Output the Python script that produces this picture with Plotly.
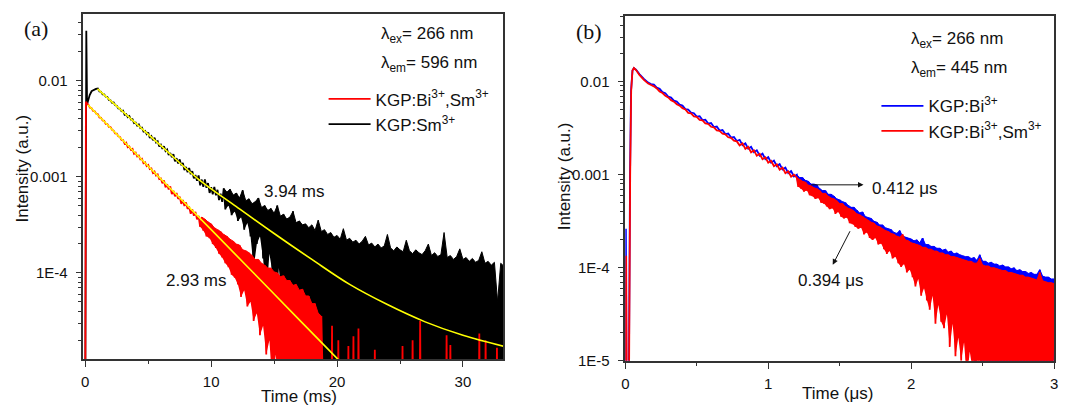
import plotly.graph_objects as go

W, H = 1069, 411
FONT = "Liberation Sans, Arial, Helvetica, sans-serif"
SERIF = "Liberation Serif, Times New Roman, serif"

# =====================================================================
# Panel (a)  lambda_ex = 266 nm, lambda_em = 596 nm   (time in ms)
# =====================================================================
# KGP:Sm3+ (black)
sm_head_t = [0.00, 0.08, 0.14, 0.22, 0.35, 0.50, 0.70, 0.85]
sm_head_log = [-5.20, -1.48, -2.25, -2.21, -2.15, -2.11, -2.095, -2.086]
sm_body_t0, sm_body_dt = 1.0, 0.125
sm_body_log = [-2.082, -2.111, -2.115, -2.143, -2.142, -2.166, -2.169, -2.200, -2.204, -2.229,
               -2.227, -2.256, -2.260, -2.289, -2.291, -2.317, -2.312, -2.354, -2.347, -2.379,
               -2.368, -2.404, -2.402, -2.442, -2.436, -2.468, -2.456, -2.494, -2.489, -2.529,
               -2.522, -2.556, -2.538, -2.595, -2.577, -2.620, -2.594, -2.643, -2.630, -2.685,
               -2.667, -2.709, -2.682, -2.733, -2.716, -2.772, -2.752, -2.797, -2.764, -2.839,
               -2.807, -2.862, -2.819, -2.881, -2.856, -2.929, -2.897, -2.952, -2.908, -2.973,
               -2.942, -3.016, -2.982, -3.041, -2.986, -3.088, -3.029, -3.103, -3.028, -3.114,
               -3.065, -3.168, -3.108, -3.183, -3.105, -3.193, -3.136, -3.243, -3.176, -3.261]
sm_tail_t0, sm_tail_dt = 11.0, 0.125
sm_tail_upper = [-3.12, -3.16, -3.13, -3.19, -3.17, -3.22, -3.14, -3.25, -3.23, -3.28,
                 -3.26, -3.22, -3.32, -3.30, -3.35, -3.33, -3.38, -3.30, -3.41, -3.39,
                 -3.44, -3.42, -3.36, -3.48, -3.46, -3.50, -3.49, -3.53, -3.50, -3.56,
                 -3.45, -3.57, -3.55, -3.60, -3.58, -3.63, -3.61, -3.65, -3.54, -3.66,
                 -3.64, -3.68, -3.66, -3.70, -3.67, -3.62, -3.71, -3.69, -3.73, -3.70,
                 -3.74, -3.72, -3.60, -3.74, -3.77, -3.73, -3.76, -3.78, -3.66, -3.77,
                 -3.80, -3.76, -3.79, -3.81, -3.77, -3.70, -3.82, -3.79, -3.83, -3.81,
                 -3.58, -3.84, -3.82, -3.86, -3.83, -3.75, -3.86, -3.84, -3.88, -3.85,
                 -3.89, -3.87, -3.78, -3.90, -3.88, -3.92, -3.89, -4.30, -3.90, -3.93]
sm_tail_lower = [-3.34, -3.30, -3.40, -3.36, -3.46, -3.42, -3.55, -3.48, -3.62, -3.95,
                 -3.70, -3.62, -3.85, -4.25, -3.80, -4.00, -4.55, -3.95, -4.30, -4.70,
                 -4.35, -5.20, -4.60, -5.20]
sm_solid_from = 23          # from this upper-envelope sample on, the black band reaches the axis floor

# KGP:Bi3+,Sm3+ (red)
bs_head_t = [0.00, 0.05, 0.15]
bs_head_log = [-5.20, -2.22, -2.24]
bs_body_t0, bs_body_dt = 0.25, 0.125
bs_body_log = [-2.250, -2.281, -2.287, -2.315, -2.318, -2.343, -2.349, -2.382, -2.387, -2.413,
               -2.417, -2.449, -2.452, -2.480, -2.482, -2.511, -2.519, -2.548, -2.550, -2.579,
               -2.585, -2.615, -2.617, -2.655, -2.645, -2.692, -2.685, -2.719, -2.710, -2.760,
               -2.749, -2.789, -2.779, -2.818, -2.811, -2.859, -2.850, -2.889, -2.876, -2.920,
               -2.914, -2.961, -2.946, -2.987, -2.975, -3.023, -3.017, -3.068, -3.038, -3.109,
               -3.078, -3.131, -3.101, -3.179, -3.146, -3.203, -3.169, -3.230, -3.207, -3.282,
               -3.242, -3.303, -3.267, -3.334, -3.310, -3.385, -3.339, -3.405, -3.365, -3.443,
               -3.408]
bs_tail_t0, bs_tail_dt = 9.125, 0.125
bs_tail_lower = [-3.52, -3.56, -3.62, -3.64, -3.70, -3.74, -3.80, -3.84, -3.90, -3.94,
                 -4.02, -4.05, -4.12, -4.25, -4.18, -4.35, -4.30, -4.50, -4.42, -4.65,
                 -4.55, -4.85, -4.70, -5.20, -4.85, -5.20, -5.00, -5.20, -5.20, -5.20,
                 -5.20, -5.20, -5.20, -5.20, -5.20, -5.20, -5.20, -5.20, -5.20, -5.20]
bs_tail_upper = [-3.42, -3.44, -3.47, -3.49, -3.53, -3.55, -3.57, -3.60, -3.62, -3.65,
                 -3.67, -3.70, -3.71, -3.76, -3.77, -3.79, -3.82, -3.86, -3.86, -3.90,
                 -3.92, -3.95, -3.95, -3.99, -4.00, -4.04, -4.03, -4.08, -4.08, -4.13,
                 -4.12, -4.18, -4.17, -4.24, -4.24, -4.32, -4.32, -4.42, -4.45]
bs_spike_t = [19.57, 19.60, 19.63, 20.07, 20.10, 20.13, 20.87, 20.90, 20.93, 21.27, 21.30, 21.33,
              21.67, 21.70, 21.73, 22.97, 23.00, 23.03, 25.17, 25.20, 25.23, 25.97, 26.00, 26.03,
              26.57, 26.60, 26.63, 28.67, 28.70, 28.73, 28.97, 29.00, 29.03, 31.27, 31.30, 31.33,
              31.77, 31.80, 31.83, 32.67, 32.70, 32.73]
bs_spike_log = [-5.20, -4.55, -5.20, -5.20, -4.70, -5.20, -5.20, -4.76, -5.20, -5.20, -4.66, -5.20,
                -5.20, -4.58, -5.20, -5.20, -4.80, -5.20, -5.20, -4.76, -5.20, -5.20, -4.70, -5.20,
                -5.20, -4.50, -5.20, -5.20, -4.65, -5.20, -5.20, -4.75, -5.20, -5.20, -4.63, -5.20,
                -5.20, -4.70, -5.20, -5.20, -4.78, -5.20]

# single-exponential fits (yellow)
sm_fit_t = [0.97, 3.0, 6.0, 9.0, 12.0, 15.0, 18.0, 21.0, 24.0, 27.0, 30.0, 33.4]
sm_fit_log = [-2.086, -2.324, -2.675, -3.026, -3.31, -3.59, -3.86, -4.12, -4.33, -4.51, -4.65, -4.77]
bs_fit_t = [0.2, 5.0, 10.0, 15.0, 20.0, 21.0]
bs_fit_log = [-2.25, -2.89, -3.55, -4.22, -4.89, -5.02]

# =====================================================================
# Panel (b)  lambda_ex = 266 nm, lambda_em = 445 nm   (time in us)
# =====================================================================
# KGP:Bi3+ (blue)
bi_head_t = [0.000, 0.004, 0.008, 0.025, 0.033, 0.040, 0.050, 0.060, 0.075, 0.100, 0.130, 0.160, 0.180]
bi_head_log = [-5.20, -3.58, -5.20, -5.20, -3.00, -2.10, -1.88, -1.853, -1.870, -1.920, -1.970, -2.010, -2.025]
bi_body_t0, bi_body_dt = 0.20, 0.02
bi_body_log = [-2.030, -2.064, -2.076, -2.112, -2.124, -2.159, -2.170, -2.204, -2.214, -2.247,
               -2.256, -2.294, -2.300, -2.331, -2.338, -2.375, -2.370, -2.412, -2.407, -2.450,
               -2.444, -2.487, -2.482, -2.525, -2.519, -2.562, -2.557, -2.600, -2.594, -2.637,
               -2.624, -2.682, -2.661, -2.720, -2.699, -2.757, -2.736, -2.795, -2.773, -2.832,
               -2.811, -2.870, -2.848, -2.907, -2.886, -2.944, -2.923, -2.982, -2.961, -3.019]
bi_tail_t0, bi_tail_dt = 1.20, 0.01
bi_tail_upper = [-3.00, -3.03, -3.03, -3.06, -3.07, -3.10, -3.10, -3.11, -3.15, -3.17,
                 -3.17, -3.21, -3.21, -3.23, -3.26, -3.27, -3.29, -3.30, -3.33, -3.35,
                 -3.35, -3.38, -3.41, -3.40, -3.45, -3.46, -3.47, -3.50, -3.51, -3.54,
                 -3.54, -3.57, -3.58, -3.59, -3.62, -3.63, -3.60, -3.66, -3.67, -3.68,
                 -3.69, -3.71, -3.70, -3.73, -3.68, -3.75, -3.75, -3.77, -3.77, -3.79,
                 -3.79, -3.81, -3.80, -3.83, -3.82, -3.85, -3.84, -3.86, -3.87, -3.88,
                 -3.88, -3.90, -3.89, -3.92, -3.86, -3.93, -3.93, -3.95, -3.94, -3.96,
                 -3.96, -3.98, -3.97, -3.99, -3.99, -4.01, -4.00, -4.03, -4.02, -4.04,
                 -4.04, -4.06, -4.05, -4.07, -4.07, -4.02, -4.09, -4.10, -4.10, -4.12,
                 -4.12]
bi_tail_lower = [-3.10, -3.11, -3.14, -3.13, -3.17, -3.18, -3.21, -3.20, -3.25, -3.26,
                 -3.28, -3.31, -3.30, -3.35, -3.33, -3.38, -3.40, -3.39, -3.44, -3.45,
                 -3.48, -3.50, -3.49, -3.55, -3.53, -3.58, -3.60, -3.58, -3.64, -3.63,
                 -3.68, -3.72, -3.70, -3.76, -3.74, -3.79, -3.82, -3.80, -3.86, -3.84,
                 -3.90, -3.95, -3.92, -4.00, -3.97, -4.05, -4.12, -4.08, -4.20, -4.15,
                 -4.45, -4.25, -4.30, -4.50, -4.40, -4.80, -4.50, -4.65, -4.55, -4.90,
                 -4.70, -4.90, -5.20, -4.80, -5.20, -5.00, -5.20, -5.20, -5.10, -5.20,
                 -5.20, -5.20, -5.20, -5.05, -5.20, -5.20, -5.20, -5.20, -5.20, -5.10,
                 -5.20, -5.20, -5.20, -5.20, -5.20, -5.20, -5.20, -5.05, -5.20, -5.20]

# KGP:Bi3+,Sm3+ (red)
bb_head_t = [0.000, 0.006, 0.010, 0.026, 0.034, 0.041, 0.050, 0.060, 0.075, 0.100, 0.130, 0.160, 0.180]
bb_head_log = [-5.20, -3.87, -5.20, -5.20, -3.00, -2.10, -1.88, -1.853, -1.875, -1.930, -1.980, -2.020, -2.035]
bb_body_t0, bb_body_dt = 0.20, 0.02
bb_body_log = [-2.050, -2.072, -2.104, -2.122, -2.152, -2.169, -2.198, -2.214, -2.242, -2.257,
               -2.284, -2.298, -2.334, -2.340, -2.372, -2.378, -2.410, -2.416, -2.447, -2.454,
               -2.484, -2.491, -2.522, -2.529, -2.559, -2.566, -2.597, -2.604, -2.634, -2.641,
               -2.684, -2.662, -2.721, -2.700, -2.759, -2.737, -2.796, -2.775, -2.833, -2.812,
               -2.871, -2.850, -2.908, -2.887, -2.946, -2.924, -2.983, -2.962, -3.021, -2.999]
bb_tail_t0, bb_tail_dt = 1.20, 0.01
bb_tail_upper = [-3.03, -3.05, -3.07, -3.08, -3.11, -3.12, -3.14, -3.15, -3.17, -3.20,
                 -3.20, -3.23, -3.25, -3.26, -3.28, -3.31, -3.31, -3.34, -3.36, -3.37,
                 -3.39, -3.42, -3.43, -3.45, -3.47, -3.49, -3.51, -3.52, -3.55, -3.56,
                 -3.58, -3.60, -3.61, -3.63, -3.64, -3.66, -3.67, -3.64, -3.70, -3.71,
                 -3.73, -3.74, -3.75, -3.76, -3.78, -3.78, -3.80, -3.80, -3.82, -3.82,
                 -3.84, -3.84, -3.86, -3.86, -3.88, -3.88, -3.89, -3.90, -3.91, -3.92,
                 -3.93, -3.93, -3.95, -3.95, -3.90, -3.97, -3.98, -3.98, -4.00, -4.00,
                 -4.01, -4.02, -4.03, -4.03, -4.05, -4.05, -4.06, -4.07, -4.08, -4.08,
                 -4.10, -4.10, -4.11, -4.12, -4.13, -4.05, -4.14, -4.15, -4.16, -4.16,
                 -4.17]
bb_tail_lower = [-3.13, -3.15, -3.18, -3.17, -3.22, -3.23, -3.26, -3.25, -3.30, -3.31,
                 -3.34, -3.37, -3.36, -3.42, -3.40, -3.45, -3.47, -3.46, -3.52, -3.53,
                 -3.56, -3.58, -3.57, -3.64, -3.62, -3.68, -3.70, -3.68, -3.75, -3.74,
                 -3.80, -3.85, -3.82, -3.90, -3.88, -3.95, -3.99, -3.96, -4.05, -4.02,
                 -4.10, -4.20, -4.12, -4.30, -4.22, -4.35, -4.45, -4.30, -4.60, -4.40,
                 -4.58, -4.65, -4.50, -4.85, -4.60, -4.95, -4.75, -5.00, -4.80, -5.20,
                 -4.90, -5.10, -5.20, -5.00, -5.20, -5.05, -5.20, -5.10, -5.20, -5.20,
                 -5.15, -5.20, -5.20, -5.20, -5.10, -5.20, -5.20, -5.20, -5.15, -5.20,
                 -5.20, -5.20, -5.20, -5.10, -5.20, -5.20, -5.20, -5.20, -5.20, -5.20]

# ---------------------------------------------------------------------
def interleave(first, second):
    out = []
    for i, v in enumerate(first):
        out.append(v)
        if i < len(second):
            out.append(second[i])
    return out


def grid(t0, dt, n):
    return [round(t0 + dt * i, 4) for i in range(n)]


def lin(logs):
    return [10 ** v for v in logs]


def build(head_t, head_log, body_t0, body_dt, body_log, tail_t0, tail_dt, tail_log,
          extra_t=(), extra_log=()):
    t = (list(head_t) + grid(body_t0, body_dt, len(body_log))
         + grid(tail_t0, tail_dt, len(tail_log)) + list(extra_t))
    lg = list(head_log) + list(body_log) + list(tail_log) + list(extra_log)
    return t, lin(lg)


fig = go.Figure()


def data_line(color, width=1.8):
    return dict(color=color, width=width, simplify=False)


def add_line(x, y, color, name, legend, rank, xa, ya):
    fig.add_trace(go.Scatter(x=x, y=y, mode="lines", name=name, line=data_line(color),
                             legend=legend, legendrank=rank, xaxis=xa, yaxis=ya, hoverinfo="skip"))


def add_band(up_t0, up_dt, upper, lo_t0, lo_dt, lower, color, xa, ya):
    """noise band of the decay: filled between its lower and upper envelope samples"""
    fig.add_trace(go.Scatter(x=grid(lo_t0, lo_dt, len(lower)), y=lin(lower), mode="lines",
                             line=dict(color=color, width=0, simplify=False), showlegend=False,
                             xaxis=xa, yaxis=ya, hoverinfo="skip"))
    fig.add_trace(go.Scatter(x=grid(up_t0, up_dt, len(upper)), y=lin(upper), mode="lines",
                             fill="tonexty", fillcolor=color,
                             line=dict(color=color, width=1.0, simplify=False), showlegend=False,
                             xaxis=xa, yaxis=ya, hoverinfo="skip"))


def add_solid(x, y, color, xa, ya):
    """part of the noise band that reaches the floor of the axis"""
    fig.add_trace(go.Scatter(x=x, y=y, mode="lines", fill="tozeroy", fillcolor=color,
                             line=dict(color=color, width=1.0, simplify=False),
                             showlegend=False, xaxis=xa, yaxis=ya, hoverinfo="skip"))


# ---------------- panel (a) ----------------
n_sm = len(sm_tail_lower) + 1
sm_x, sm_y = build(sm_head_t, sm_head_log, sm_body_t0, sm_body_dt, sm_body_log,
                   sm_tail_t0, sm_tail_dt, interleave(sm_tail_upper[:n_sm], sm_tail_lower))
add_band(sm_tail_t0, 2 * sm_tail_dt, sm_tail_upper[:n_sm],
         sm_tail_t0 + sm_tail_dt, 2 * sm_tail_dt, sm_tail_lower, "#000000", "x", "y")
sm_up_t = grid(sm_tail_t0, 2 * sm_tail_dt, len(sm_tail_upper))
add_solid(sm_up_t[sm_solid_from:], lin(sm_tail_upper[sm_solid_from:]), "#000000", "x", "y")
add_line(sm_x, sm_y, "#000000", "KGP:Sm<sup>3+</sup>", "legend", 2, "x", "y")

bs_x, bs_y = build(bs_head_t, bs_head_log, bs_body_t0, bs_body_dt, bs_body_log,
                   bs_tail_t0, bs_tail_dt, interleave(bs_tail_lower, bs_tail_upper),
                   bs_spike_t, bs_spike_log)
add_band(bs_tail_t0 + bs_tail_dt, 2 * bs_tail_dt, bs_tail_upper,
         bs_tail_t0, 2 * bs_tail_dt, bs_tail_lower, "#FF0000", "x", "y")
add_line(bs_x, bs_y, "#FF0000", "KGP:Bi<sup>3+</sup>,Sm<sup>3+</sup>", "legend", 1, "x", "y")

fig.add_trace(go.Scatter(x=sm_fit_t, y=lin(sm_fit_log), mode="lines",
                         line=dict(color="#FFFF00", width=1.6, shape="spline"), showlegend=False,
                         xaxis="x", yaxis="y", hoverinfo="skip"))
fig.add_trace(go.Scatter(x=bs_fit_t, y=lin(bs_fit_log), mode="lines",
                         line=dict(color="#FFFF00", width=1.6, shape="spline"), showlegend=False,
                         xaxis="x", yaxis="y", hoverinfo="skip"))

# ---------------- panel (b) ----------------
bi_x, bi_y = build(bi_head_t, bi_head_log, bi_body_t0, bi_body_dt, bi_body_log,
                   bi_tail_t0, bi_tail_dt, interleave(bi_tail_upper, bi_tail_lower))
add_band(bi_tail_t0, 2 * bi_tail_dt, bi_tail_upper,
         bi_tail_t0 + bi_tail_dt, 2 * bi_tail_dt, bi_tail_lower, "#0000FF", "x2", "y2")
add_line(bi_x, bi_y, "#0000FF", "KGP:Bi<sup>3+</sup>", "legend2", 1, "x2", "y2")

bb_x, bb_y = build(bb_head_t, bb_head_log, bb_body_t0, bb_body_dt, bb_body_log,
                   bb_tail_t0, bb_tail_dt, interleave(bb_tail_upper, bb_tail_lower))
add_band(bb_tail_t0, 2 * bb_tail_dt, bb_tail_upper,
         bb_tail_t0 + bb_tail_dt, 2 * bb_tail_dt, bb_tail_lower, "#FF0000", "x2", "y2")
add_line(bb_x, bb_y, "#FF0000", "KGP:Bi<sup>3+</sup>,Sm<sup>3+</sup>", "legend2", 2, "x2", "y2")

AX = "#333333"


def minor_log(lo_exp, hi_exp):
    return [m * 10.0 ** e for e in range(lo_exp, hi_exp) for m in range(2, 10)]


def x_axis(domain, rng, tickvals, minor_vals, anchor):
    return dict(domain=domain, range=rng, tickmode="array", tickvals=tickvals,
                ticks="outside", ticklen=6, tickwidth=1.2, tickcolor=AX,
                minor=dict(tickmode="array", tickvals=minor_vals, ticks="outside",
                           ticklen=3.5, tickwidth=1, tickcolor=AX, showgrid=False),
                showline=True, linecolor=AX, linewidth=1.5, mirror=True,
                showgrid=False, zeroline=False, anchor=anchor,
                tickfont=dict(family=FONT, size=15, color="#111111"), ticklabelstandoff=2)


def y_axis(domain, rng, tickvals, ticktext, anchor):
    return dict(type="log", domain=domain, range=rng, tickmode="array",
                tickvals=tickvals, ticktext=ticktext,
                ticks="outside", ticklen=6, tickwidth=1.2, tickcolor=AX,
                minor=dict(tickmode="array", tickvals=minor_log(-5, -1), ticks="outside",
                           ticklen=3.5, tickwidth=1, tickcolor=AX, showgrid=False),
                showline=True, linecolor=AX, linewidth=1.5, mirror=True,
                showgrid=False, zeroline=False, anchor=anchor,
                tickfont=dict(family=FONT, size=15, color="#111111"), ticklabelstandoff=5)


def px_x(p):
    return p / W


def px_y(p):
    return 1 - p / H


fig.update_layout(
    width=W, height=H, margin=dict(l=0, r=0, t=0, b=0),
    paper_bgcolor="white", plot_bgcolor="white",
    font=dict(family=FONT, color="#111111"),
    xaxis=x_axis([px_x(80), px_x(503)], [-0.15, 33.2], [0, 10, 20, 30], [5, 15, 25], "y"),
    yaxis=y_axis([px_y(366), px_y(14)], [-4.895, -1.303], [1e-4, 1e-3, 1e-2],
                 ["1E-4", "0.001", "0.01"], "x"),
    xaxis2=x_axis([px_x(626), px_x(1058)], [0, 3], [0, 1, 2, 3], [0.5, 1.5, 2.5], "y2"),
    yaxis2=y_axis([px_y(368), px_y(16)], [-5, -1.29], [1e-5, 1e-4, 1e-3, 1e-2],
                  ["1E-5", "1E-4", "0.001", "0.01"], "x2"),
    legend=dict(x=px_x(322), y=px_y(83), xanchor="left", yanchor="top", traceorder="normal",
                bgcolor="rgba(0,0,0,0)", font=dict(family=FONT, size=17, color="#111111"),
                itemwidth=42, tracegroupgap=0),
    legend2=dict(x=px_x(879), y=px_y(90), xanchor="left", yanchor="top", traceorder="normal",
                 bgcolor="rgba(0,0,0,0)", font=dict(family=FONT, size=17, color="#111111"),
                 itemwidth=42, tracegroupgap=0),
    showlegend=True,
)

ann = []


def text(x, y, s, size=17, xanchor="center", family=FONT, angle=0):
    ann.append(dict(x=px_x(x), y=px_y(y), xref="paper", yref="paper", text=s, showarrow=False,
                    xanchor=xanchor, yanchor="middle", textangle=angle,
                    font=dict(family=family, size=size, color="#111111")))


# axis titles
text(19, 172, "Intensity (a.u.)", angle=-90)
text(565, 180, "Intensity (a.u.)", angle=-90)
text(297, 404, "Time (ms)")
text(840, 401, "Time (μs)")
# panel labels
text(32, 29, "(a)", size=22, family=SERIF)
text(589, 32, "(b)", size=22, family=SERIF)
# excitation / emission
text(378, 36, "λ<sub>ex</sub>= 266 nm", xanchor="left")
text(378, 65, "λ<sub>em</sub>= 596 nm", xanchor="left")
text(912, 41, "λ<sub>ex</sub>= 266 nm", xanchor="left")
text(912, 70, "λ<sub>em</sub>= 445 nm", xanchor="left")
# lifetimes
text(292, 195, "3.94 ms")
text(193, 286, "2.93 ms")
text(873, 192, "0.412 μs", xanchor="left")
text(833, 286, "0.394 μs")

# arrows
ann.append(dict(x=px_x(866), y=px_y(188.5), xref="paper", yref="paper", text="",
                showarrow=True, ax=-54, ay=0, arrowhead=2, arrowsize=1.1, arrowwidth=1,
                arrowcolor="#111111", standoff=0))
ann.append(dict(x=px_x(835), y=px_y(270), xref="paper", yref="paper", text="",
                showarrow=True, ax=18, ay=-35, arrowhead=2, arrowsize=1.1, arrowwidth=1,
                arrowcolor="#111111", standoff=0))

fig.update_layout(annotations=ann)
fig.write_html("out.html", config={"displayModeBar": False},
               post_script="document.body.style.margin='0px';")
